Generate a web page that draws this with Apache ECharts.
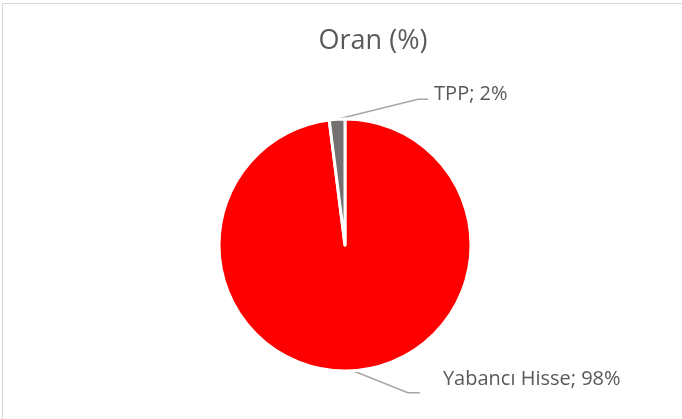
<!DOCTYPE html>
<html>
<head>
<meta charset="utf-8">
<script src="https://cdn.jsdelivr.net/npm/echarts@6/dist/echarts.min.js"></script>
<style>
    html, body { margin: 0; padding: 0; background: #fff; }
    #main { position: absolute; left: 0; top: 0; width: 682px; height: 419px; }
    #frame { position: absolute; left: 2px; top: 3px; width: 720px; height: 460px;
             border-left: 1px solid #d9d9d9; border-top: 1px solid #d9d9d9; pointer-events: none; }
</style>
</head>
<body>
<div id="main"></div>
<div id="frame"></div>
<script>
// veriler
var categories = ['Yabancı Hisse', 'TPP'];
var values = [98, 2];
var colors = ['#ff0000', '#757070'];

var myChart = echarts.init(document.getElementById('main'));

var option = {
    backgroundColor: '#fff',
    title: {
        text: 'Oran (%)',
        left: 368,
        top: 23,
        textAlign: 'center',
        textStyle: {
            fontFamily: 'Open Sans',
            fontSize: 27,
            fontWeight: 'normal',
            color: '#595959'
        }
    },
    series: [{
        type: 'pie',
        center: [345, 245],
        radius: 126,
        startAngle: 90,
        clockwise: true,
        animation: false,
        itemStyle: {
            borderColor: '#fff',
            borderWidth: 3
        },
        label: {
            show: true,
            formatter: '{b}; {c}%',
            fontFamily: 'Open Sans',
            fontSize: 20,
            color: '#595959'
        },
        labelLine: {
            show: true,
            lineStyle: { color: '#a6a6a6', width: 1.5 }
        },
        labelLayout: function (params) {
            var p0 = params.labelLinePoints[0];
            if (params.dataIndex === 1) {
                // TPP etiketi sağ üstte
                return {
                    x: p0[0] + 97, y: p0[1] - 25,
                    align: 'left', verticalAlign: 'middle',
                    labelLinePoints: [p0, [p0[0] + 81, p0[1] - 20], [p0[0] + 91, p0[1] - 20]]
                };
            }
            return {
                x: p0[0] + 90, y: p0[1] + 9,
                align: 'left', verticalAlign: 'middle',
                labelLinePoints: [p0, [p0[0] + 55, p0[1] + 22], [p0[0] + 67, p0[1] + 22]]
            };
        },
        data: categories.map(function (name, i) {
            return { name: name, value: values[i], itemStyle: { color: colors[i] } };
        })
    }]
};
myChart.setOption(option);
</script>
</body>
</html>
